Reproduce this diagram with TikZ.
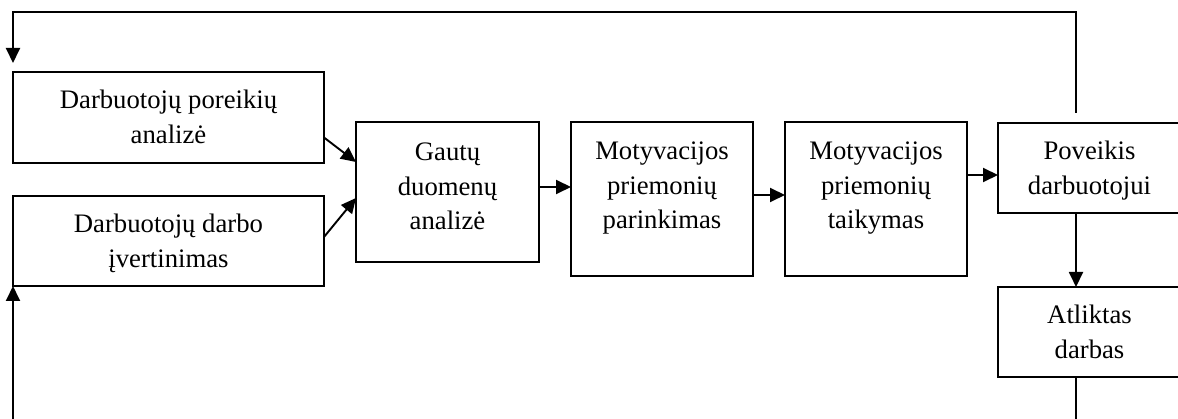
\documentclass[tikz,border=0pt]{standalone}
\usepackage{fontspec}
\setmainfont{Liberation Serif}
\usetikzlibrary{arrows.meta}
% block content: fixed width and height, text set from the top after a gap
\newcommand\blocktext[4]{\parbox[c][#2][t]{#1}{\centering\vspace*{#3}#4\par}}
\begin{document}
\begin{tikzpicture}[x=1pt,y=-1pt,
  block/.style={draw, line width=1.9pt, inner sep=0pt, outer sep=0pt,
    anchor=north west, font=\fontsize{26.7}{34.5}\selectfont},
  flow/.style={line width=1.9pt, -{Triangle[length=15pt,width=14pt]}},
  plain/.style={line width=1.9pt}]
\useasboundingbox (0,0) rectangle (1178,419);

\node[block] (needs)  at (13,72)   {\blocktext{311pt}{91pt}{18pt}{Darbuotojų poreikių\\analizė}};
\node[block] (eval)   at (13,196)  {\blocktext{311pt}{90pt}{18pt}{Darbuotojų darbo\\įvertinimas}};
\node[block] (data)   at (356,122) {\blocktext{183pt}{140pt}{21pt}{Gautų\\duomenų\\analizė}};
\node[block] (select) at (571,122) {\blocktext{182pt}{154pt}{20pt}{Motyvacijos\\priemonių\\parinkimas}};
\node[block] (apply)  at (785,122) {\blocktext{182pt}{154pt}{20pt}{Motyvacijos\\priemonių\\taikymas}};
\node[block] (effect) at (998,123) {\blocktext{183pt}{90pt}{18pt}{Poveikis\\darbuotojui}};
\node[block] (work)   at (998,287) {\blocktext{183pt}{90pt}{18pt}{Atliktas\\darbas}};

% helper points on the block sides
\path ([yshift=-20pt]needs.east) coordinate (n1)
      ([yshift=30pt]data.west)   coordinate (n2)
      ([yshift=4pt]eval.east)    coordinate (v1)
      ([yshift=-6pt]data.west)   coordinate (v2)
      ([yshift=5pt]data.east)    coordinate (d1)
      ([yshift=4pt]select.east)  coordinate (s1)
      ([yshift=24pt]apply.east)  coordinate (a1)
      ([xshift=-13.5pt]effect.south) coordinate (e1)
      ([xshift=-13.5pt,yshift=10pt]effect.north) coordinate (e2);
\coordinate (ret) at (13,12);
\coordinate (inL) at (13,430);
\coordinate (outR) at (1076,430);

% inputs into the analysis
\draw[flow] (n1) -- (n2);
\draw[flow] (v1) -- (v2);
% main chain
\draw[flow] (d1) -- (d1 -| select.west);
\draw[flow] (s1) -- (s1 -| apply.west);
\draw[flow] (a1) -- (a1 -| effect.west);
\draw[flow] (e1) -- (e1 |- work.north);
% feedback loops
\draw[flow] (e2) |- (ret) -- ([yshift=9pt]needs.north west);
\draw[plain] (outR |- work.south) -- (outR);
\draw[flow] (inL) -- (eval.south west);
\end{tikzpicture}
\end{document}
